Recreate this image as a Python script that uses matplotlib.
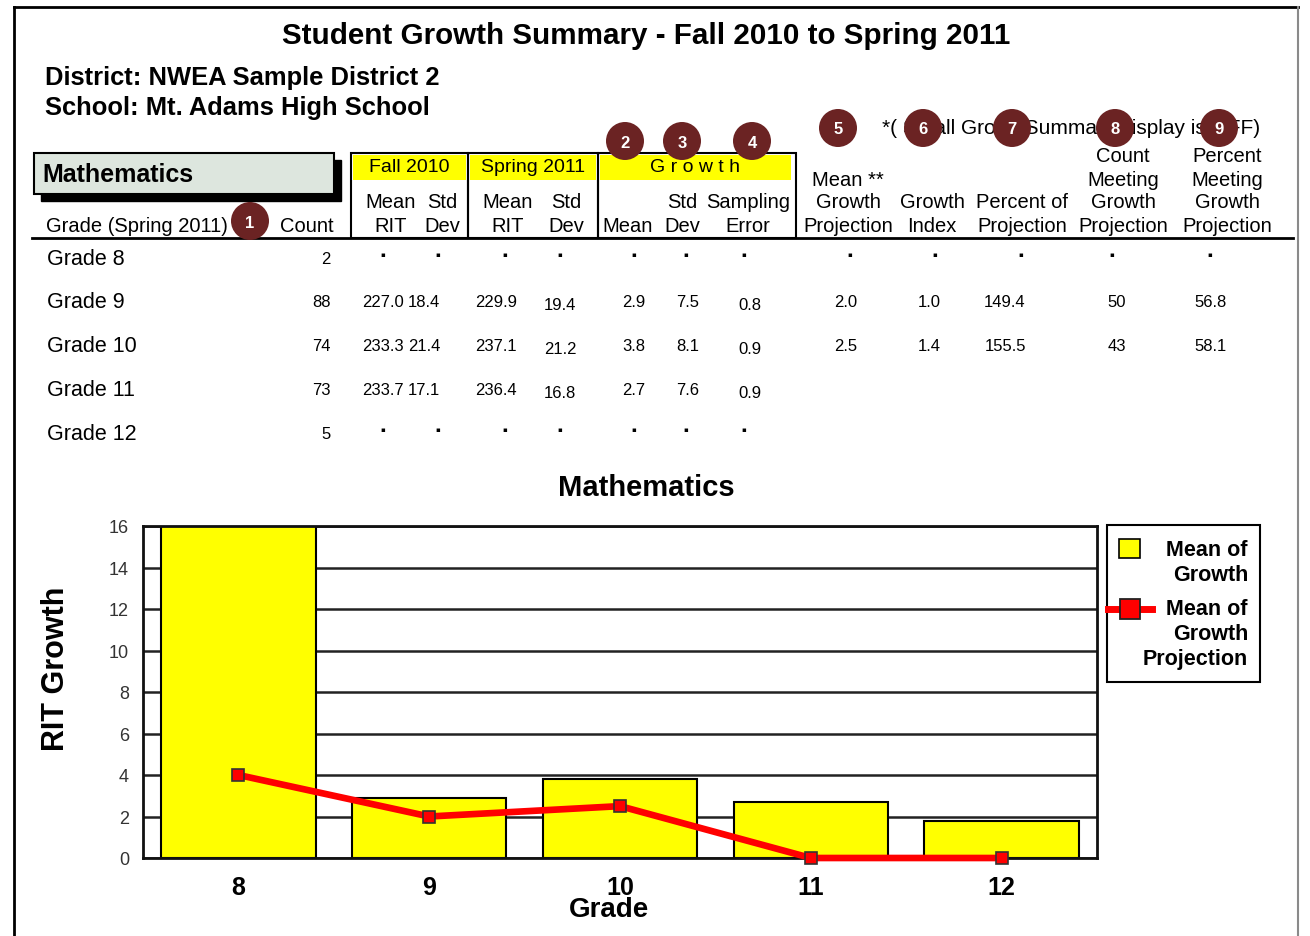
import numpy as np
import matplotlib
matplotlib.use('Agg')
import matplotlib.pyplot as plt
from matplotlib.patches import Rectangle, Circle
from matplotlib.lines import Line2D

plt.rcParams['font.family'] = ['Liberation Sans', 'DejaVu Sans']

# ---------------- data ----------------
NA = np.nan          # shown as a small dot in the report
title = 'Student Growth Summary - Fall 2010 to Spring 2011'
district = 'District: NWEA Sample District 2'
school = 'School: Mt. Adams High School'
subject = 'Mathematics'
note = '*( Small Group Summary display is OFF)'

row_labels = ['Grade 8', 'Grade 9', 'Grade 10', 'Grade 11', 'Grade 12']
counts = [2, 88, 74, 73, 5]
fall_mean = [NA, 227.0, 233.3, 233.7, NA]
fall_std = [NA, 18.4, 21.4, 17.1, NA]
spring_mean = [NA, 229.9, 237.1, 236.4, NA]
spring_std = [NA, 19.4, 21.2, 16.8, NA]
growth_mean_tbl = [NA, 2.9, 3.8, 2.7, NA]
growth_std = [NA, 7.5, 8.1, 7.6, NA]
sampling_error = [NA, 0.8, 0.9, 0.9, NA]
mean_growth_proj = [NA, 2.0, 2.5, None, None]
growth_index = [NA, 1.0, 1.4, None, None]
pct_of_proj = [NA, 149.4, 155.5, None, None]
count_meeting = [NA, 50, 43, None, None]
pct_meeting = [NA, 56.8, 58.1, None, None]

chart_grades = ['8', '9', '10', '11', '12']
chart_growth = [16.0, 2.9, 3.8, 2.7, 1.8]
chart_projection = [4.0, 2.0, 2.5, 0.0, 0.0]
legend_labels = ['Mean of\nGrowth', 'Mean of\nGrowth\nProjection']
y_ticks = [0, 2, 4, 6, 8, 10, 12, 14, 16]

# ---------------- figure ----------------
W, H = 1310, 937
fig = plt.figure(figsize=(W / 100, H / 100), dpi=100)
fig.patch.set_facecolor('white')

ax0 = fig.add_axes([0, 0, 1, 1])
ax0.set_xlim(0, W)
ax0.set_ylim(H, 0)
ax0.axis('off')

# outer frame
ax0.plot([14, 14], [8, H], color='black', lw=2)
ax0.plot([14, 1298], [8, 8], color='black', lw=2)
ax0.plot([1298, 1298], [8, H], color='#8a8a8a', lw=1.5)

# titles
ax0.text(646, 36, title, ha='center', va='center', fontsize=21.3, fontweight='bold')
ax0.text(45, 78, district, ha='left', va='center', fontsize=18.4, fontweight='bold')
ax0.text(45, 108, school, ha='left', va='center', fontsize=18.4, fontweight='bold')

# subject box with shadow
ax0.add_patch(Rectangle((41, 161), 300, 41, facecolor='black', edgecolor='black', lw=1))
ax0.add_patch(Rectangle((34, 154), 300, 41, facecolor='#dde6de', edgecolor='black', lw=1.5))
ax0.text(42, 175, subject, ha='left', va='center', fontsize=18, fontweight='bold')

# header boxes
hdr_fs = 14.5
for (x0, x1, yx1, lab) in [(351, 468, 466, 'Fall 2010'), (468, 598, 596, 'Spring 2011'),
                           (598, 796, 791, 'G r o w t h')]:
    ax0.add_patch(Rectangle((x0 + 2, 156), yx1 - x0 - 2, 25, facecolor='#ffff00', edgecolor='none'))
    ax0.add_patch(Rectangle((x0, 154), x1 - x0, 85, facecolor='none', edgecolor='black', lw=1.5))
    ax0.text((x0 + yx1) / 2 + 1, 168, lab, ha='center', va='center', fontsize=14)

line_y = [157, 180, 203, 226]
headers = [
    (391, ['Mean', 'RIT']), (442, ['Std', 'Dev']),
    (508, ['Mean', 'RIT']), (566, ['Std', 'Dev']),
    (628, ['Mean']), (682, ['Std', 'Dev']), (748, ['Sampling', 'Error']),
    (848, ['Mean **', 'Growth', 'Projection']), (932, ['Growth', 'Index']),
    (1022, ['Percent of', 'Projection']),
    (1123, ['Count', 'Meeting', 'Growth', 'Projection']),
    (1227, ['Percent', 'Meeting', 'Growth', 'Projection']),
]
for xc, lines in headers:
    for i, ln in enumerate(lines):
        ax0.text(xc, line_y[4 - len(lines) + i], ln, ha='center', va='center', fontsize=hdr_fs)

ax0.text(46, 226, 'Grade (Spring 2011)', ha='left', va='center', fontsize=hdr_fs)
ax0.text(334, 226, 'Count', ha='right', va='center', fontsize=hdr_fs)
ax0.plot([32, 1293], [239, 239], color='black', lw=2)
ax0.text(882, 129, note, ha='left', va='center', fontsize=15)

# table rows
row_y = [260, 303, 347, 391, 435]
num_fs = 12
columns = [
    (fall_mean, '{:.1f}', 383, 383, 0), (fall_std, '{:.1f}', 424, 438, 0),
    (spring_mean, '{:.1f}', 496, 505, 0), (spring_std, '{:.1f}', 560, 560, 3),
    (growth_mean_tbl, '{:.1f}', 634, 634, 0), (growth_std, '{:.1f}', 688, 686, 0),
    (sampling_error, '{:.1f}', 750, 744, 3),
    (mean_growth_proj, '{:.1f}', 846, 850, 0), (growth_index, '{:.1f}', 929, 935, 0),
    (pct_of_proj, '{:.1f}', 1005, 1021, 0), (count_meeting, '{:.0f}', 1117, 1112, 0),
    (pct_meeting, '{:.1f}', 1211, 1210, 0),
]
for r, lab in enumerate(row_labels):
    y = row_y[r]
    ax0.text(47, y, lab, ha='left', va='center', fontsize=15.5)
    ax0.text(331, y, str(counts[r]), ha='right', va='center', fontsize=num_fs)
    for vals, fmt, xc, xd, dy in columns:
        v = vals[r]
        if v is None:
            continue
        if isinstance(v, float) and np.isnan(v):
            ax0.text(xd, y - 5, '\u25aa', ha='center', va='center', fontsize=5,
                     family='DejaVu Sans')
        else:
            ax0.text(xc, y + dy, fmt.format(v), ha='center', va='center', fontsize=num_fs)

# numbered callouts
callouts = [(250, 222, '1'), (625, 142, '2'), (682, 142, '3'), (752, 142, '4'),
            (838, 129, '5'), (923, 129, '6'), (1012, 129, '7'), (1115, 129, '8'),
            (1219, 129, '9')]
for cx, cy, t in callouts:
    ax0.add_patch(Circle((cx, cy), 19, facecolor='#6b2323', edgecolor='none', zorder=5))
    ax0.text(cx, cy + 1, t, ha='center', va='center', color='white', fontsize=12,
             fontweight='bold', zorder=6)

# chart title
ax0.text(646, 488, subject, ha='center', va='center', fontsize=21, fontweight='bold')

# legend (drawn by hand to match the report)
ax0.add_patch(Rectangle((1107, 526), 153, 157, facecolor='white', edgecolor='black', lw=1.5))
ax0.add_patch(Rectangle((1119, 540), 21, 19, facecolor='#ffff00', edgecolor='black', lw=1.2))
ax0.add_line(Line2D([1108, 1152], [610, 610], color='#ff0000', lw=5))
ax0.add_line(Line2D([1130], [610], marker='s', markersize=15, markerfacecolor='#ff0000',
                    markeredgecolor='#222222', markeredgewidth=1.3, linestyle='none'))
ax0.text(1248, 540, legend_labels[0], ha='right', va='top', fontsize=15.5,
         fontweight='bold', multialignment='right', linespacing=1.25)
ax0.text(1248, 599, legend_labels[1], ha='right', va='top', fontsize=15.5,
         fontweight='bold', multialignment='right', linespacing=1.25)

# ---------------- chart ----------------
L, R, T, B = 143, 1097, 527, 859
ax = fig.add_axes([L / W, 1 - B / H, (R - L) / W, (B - T) / H])
x = np.arange(len(chart_grades))
ax.bar(x, chart_growth, width=0.81, color='#ffff00', edgecolor='black', linewidth=1.5, zorder=2)
ax.plot(x, chart_projection, color='#ff0000', lw=4.8, marker='s', markersize=9,
        markerfacecolor='#ff0000', markeredgecolor='#333333', markeredgewidth=1.2,
        zorder=3, clip_on=False)
ax.set_xlim(-0.5, len(chart_grades) - 0.5)
ax.set_ylim(0, 16)
ax.set_yticks(y_ticks)
ax.set_yticklabels([str(v) for v in y_ticks], fontsize=13, color='#333333')
ax.set_xticks(x)
ax.set_xticklabels(chart_grades, fontsize=18, fontweight='bold')
ax.tick_params(axis='both', length=0)
ax.tick_params(axis='y', pad=10)
ax.tick_params(axis='x', pad=12)
ax.set_axisbelow(True)
ax.yaxis.grid(True, color='#222222', lw=1.8)
for s in ax.spines.values():
    s.set_color('#111111')
    s.set_linewidth(2)
ax.set_xlabel('Grade', fontsize=20, fontweight='bold')
ax.xaxis.set_label_coords((609 - L) / (R - L), -(910 - B) / (B - T))
ax.xaxis.label.set_va('center')
ax.set_ylabel('RIT Growth', fontsize=22, fontweight='bold')
ax.yaxis.set_label_coords((56 - L) / (R - L), (B - 669) / (B - T))
ax.yaxis.label.set_va('center')

fig.savefig('out.png', dpi=100, facecolor='white')
